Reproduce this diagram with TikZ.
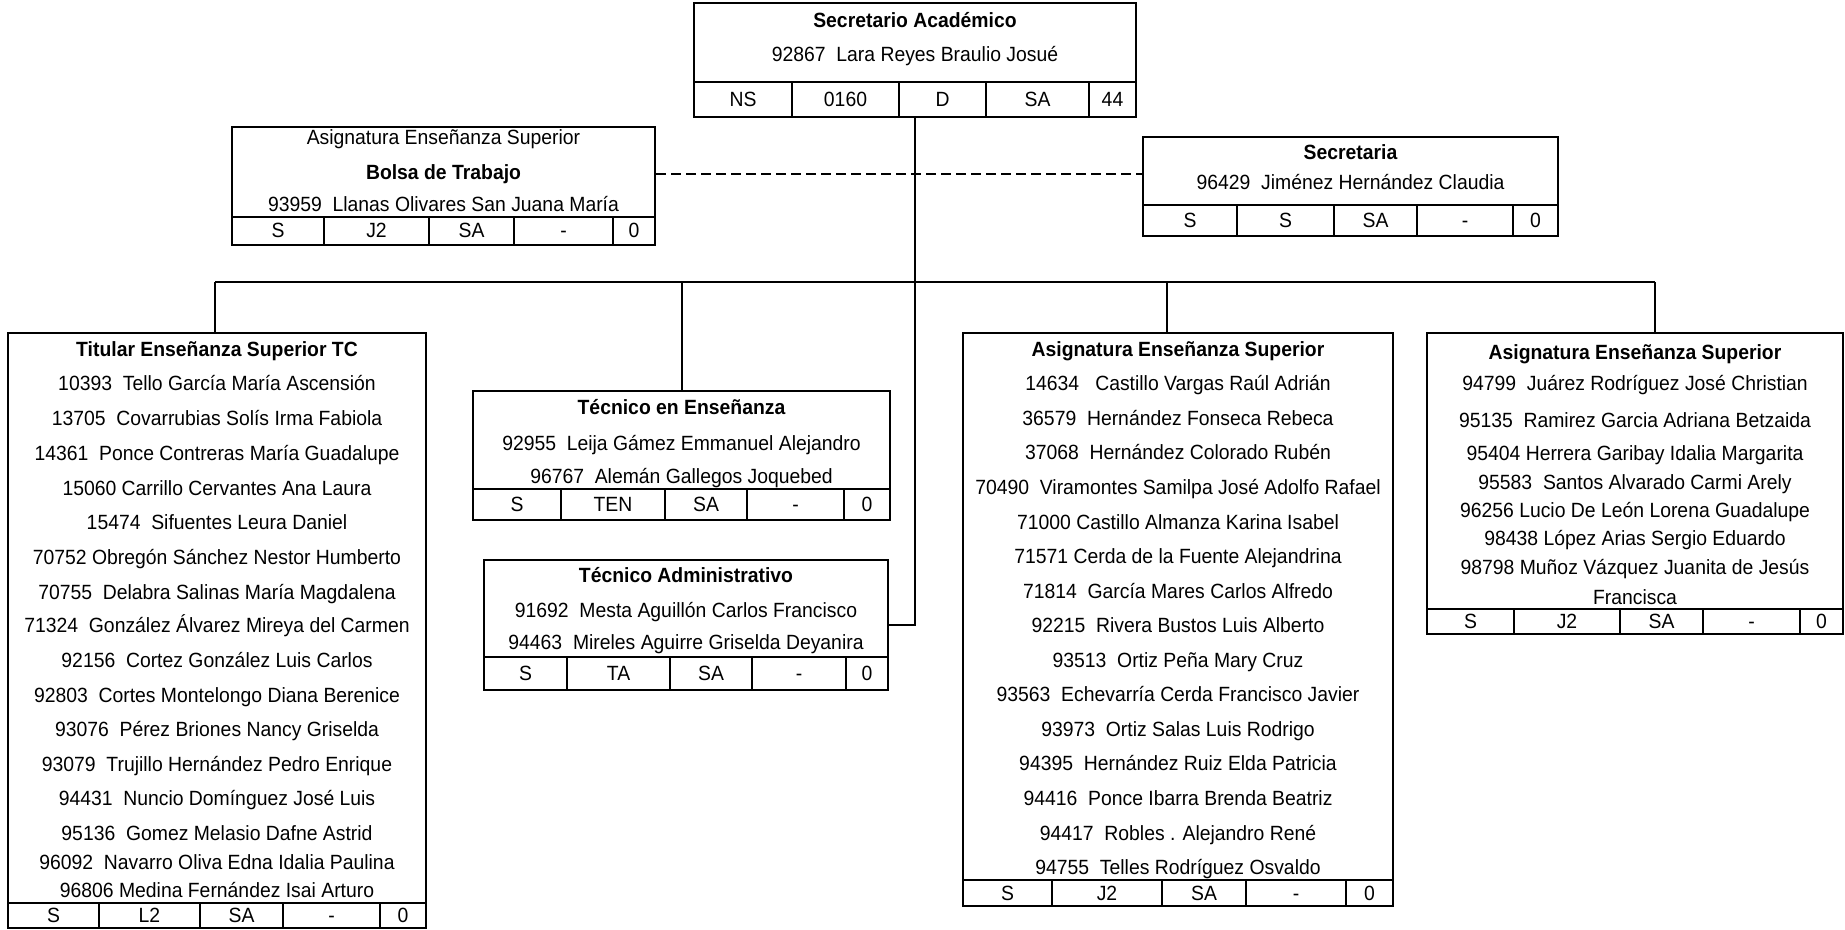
\documentclass[tikz,border=0pt]{standalone}
\usepackage{fontspec}
\setmainfont{Liberation Sans}[FakeStretch=0.94]
\usetikzlibrary{fit}
\newcommand\mkrow[6]{% #1 box name, #2 ytop, #3 ybot, #4 xleft, #5 xright, #6 list a/b/label
  \draw[grid] (#4,#2) -- (#5,#2);
  \foreach \a/\b/\lab [count=\i] in {#6}{
    \node[txt] (#1-c\i) at ({(\a+\b)/2},{(#2+#3)/2+7}) {\lab};
    \draw[grid] (\b,#2) -- (\b,#3);
  }%
}
\newcommand\mklines[3]{% #1 box name, #2 x centre, #3 list y/label
  \foreach \yy/\lab [count=\i] in {#3}{
    \node[txt] (#1-l\i) at (#2,{\yy+7}) {\lab};
  }%
}
\begin{document}
\begin{tikzpicture}[x=0.5pt,y=-0.5pt,
  box/.style={draw, inner sep=0pt, line width=1pt},
  grid/.style={line width=1pt},
  conn/.style={line width=0.6pt},
  dashconn/.style={line width=0.7pt, dash pattern=on 5pt off 2.5pt},
  txt/.style={inner sep=0pt, anchor=base, font=\fontsize{10.3pt}{11pt}\selectfont},
  ttl/.style={inner sep=0pt, anchor=base, font=\fontsize{10.3pt}{11pt}\selectfont\bfseries}]
\useasboundingbox (0,0) rectangle (1845,930);

% ---------- boxes ----------
\node[box, fit={(694,3) (1136,117)}] (sec) {};
\node[box, fit={(232,127) (655,245)}] (bolsa) {};
\node[box, fit={(1143,137) (1558,236)}] (secre) {};
\node[box, fit={(8,333) (426,928)}] (tit) {};
\node[box, fit={(473,391) (890,520)}] (tecen) {};
\node[box, fit={(484,560) (888,690)}] (tecad) {};
\node[box, fit={(963,333) (1393,906)}] (asig1) {};
\node[box, fit={(1427,333) (1843,634)}] (asig2) {};

% ---------- Secretario Académico ----------
\node[ttl] (sec-t) at (915,28) {Secretario Académico};
\node[txt] (sec-n) at (915,62) {92867~~Lara Reyes Braulio Josué};
\mkrow{sec}{82}{117}{694}{1136}{694/792/NS,792/899/0160,899/986/D,986/1089/SA,1089/1136/44}

% ---------- Bolsa de Trabajo ----------
\node[txt] (bolsa-t0) at (443.5,145) {Asignatura Enseñanza Superior};
\node[ttl] (bolsa-t) at (443.5,180) {Bolsa de Trabajo};
\node[txt] (bolsa-n) at (443.5,212) {93959~~Llanas Olivares San Juana María};
\mkrow{bolsa}{217}{245}{232}{655}{232/324/S,324/429/J2,429/514/SA,514/613/-,613/655/0}

% ---------- Secretaria ----------
\node[ttl] (secre-t) at (1350.5,160) {Secretaria};
\node[txt] (secre-n) at (1350.5,190) {96429~~Jiménez Hernández Claudia};
\mkrow{secre}{205}{236}{1143}{1558}{1143/1237/S,1237/1334/S,1334/1417/SA,1417/1513/-,1513/1558/0}

% ---------- Titular ----------
\node[ttl] (tit-t) at (217,357) {Titular Enseñanza Superior TC};
\mklines{tit}{217}{383/10393~~Tello García María Ascensión,
418/13705~~Covarrubias Solís Irma Fabiola,
453/14361~~Ponce Contreras María Guadalupe,
488/15060 Carrillo Cervantes Ana Laura,
522/15474~~Sifuentes Leura Daniel,
557/70752 Obregón Sánchez Nestor Humberto,
592/70755~~Delabra Salinas María Magdalena,
625/71324~~González Álvarez Mireya del Carmen,
660/92156~~Cortez González Luis Carlos,
695/92803~~Cortes Montelongo Diana Berenice,
729/93076~~Pérez Briones Nancy Griselda,
764/93079~~Trujillo Hernández Pedro Enrique,
798/94431~~Nuncio Domínguez José Luis,
833/95136~~Gomez Melasio Dafne Astrid,
862/96092~~Navarro Oliva Edna Idalia Paulina,
890/96806 Medina Fernández Isai Arturo}
\mkrow{tit}{903}{928}{8}{426}{8/99/S,99/200/L2,200/283/SA,283/380/-,380/426/0}

% ---------- Técnico en Enseñanza ----------
\node[ttl] (tecen-t) at (681.5,414) {Técnico en Enseñanza};
\mklines{tecen}{681.5}{443/92955~~Leija Gámez Emmanuel Alejandro,
476/96767~~Alemán Gallegos Joquebed}
\mkrow{tecen}{489}{520}{473}{890}{473/561/S,561/665/TEN,665/747/SA,747/844/-,844/890/0}

% ---------- Técnico Administrativo ----------
\node[ttl] (tecad-t) at (686,582) {Técnico Administrativo};
\mklines{tecad}{686}{610/91692~~Mesta Aguillón Carlos Francisco,
642/94463~~Mireles Aguirre Griselda Deyanira}
\mkrow{tecad}{657}{690}{484}{888}{484/567/S,567/670/TA,670/752/SA,752/846/-,846/888/0}

% ---------- Asignatura (centre) ----------
\node[ttl] (asig1-t) at (1178,357) {Asignatura Enseñanza Superior};
\mklines{asig1}{1178}{383/14634~~~Castillo Vargas Raúl Adrián,
418/36579~~Hernández Fonseca Rebeca,
452/37068~~Hernández Colorado Rubén,
487/70490~~Viramontes Samilpa José Adolfo Rafael,
522/71000 Castillo Almanza Karina Isabel,
556/71571 Cerda de la Fuente Alejandrina,
591/71814~~García Mares Carlos Alfredo,
625/92215~~Rivera Bustos Luis Alberto,
660/93513~~Ortiz Peña Mary Cruz,
694/93563~~Echevarría Cerda Francisco Javier,
729/93973~~Ortiz Salas Luis Rodrigo,
763/94395~~Hernández Ruiz Elda Patricia,
798/94416~~Ponce Ibarra Brenda Beatriz,
833/94417~~Robles . Alejandro René,
867/94755~~Telles Rodríguez Osvaldo}
\mkrow{asig1}{880}{906}{963}{1393}{963/1052/S,1052/1162/J2,1162/1246/SA,1246/1346/-,1346/1393/0}

% ---------- Asignatura (right) ----------
\node[ttl] (asig2-t) at (1635,359) {Asignatura Enseñanza Superior};
\mklines{asig2}{1635}{383/94799~~Juárez Rodríguez José Christian,
420/95135~~Ramirez Garcia Adriana Betzaida,
453/95404 Herrera Garibay Idalia Margarita,
482/95583~~Santos Alvarado Carmi Arely,
510/96256 Lucio De León Lorena Guadalupe,
538/98438 López Arias Sergio Eduardo,
567/98798 Muñoz Vázquez Juanita de Jesús,
597/Francisca}
\mkrow{asig2}{609}{634}{1427}{1843}{1427/1514/S,1514/1620/J2,1620/1703/SA,1703/1800/-,1800/1843/0}

% ---------- connectors ----------
\coordinate (busy) at (0,282);
\coordinate (dashy) at (0,174);
\coordinate (d1) at (215,282);
\coordinate (d2) at (682,282);
\coordinate (d3) at (1167,282);
\coordinate (d4) at (1655,282);
\draw[conn] (sec.south) |- (tecad.east);
\draw[conn] (d1) -- (d4);
\draw[conn] (d1) -- (d1 |- tit.north);
\draw[conn] (d2) -- (d2 |- tecen.north);
\draw[conn] (d3) -- (d3 |- asig1.north);
\draw[conn] (d4) -- (d4 |- asig2.north);
\draw[dashconn] (bolsa.east |- dashy) -- (secre.west |- dashy);
\end{tikzpicture}
\end{document}
